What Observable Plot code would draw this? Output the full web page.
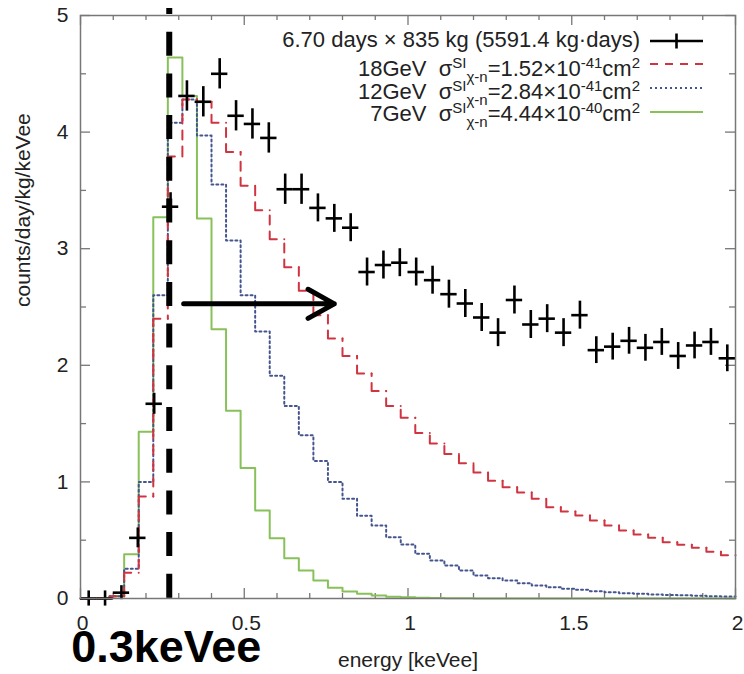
<!DOCTYPE html>
<html><head><meta charset="utf-8">
<script src="https://cdn.jsdelivr.net/npm/d3@7"></script>
<script src="https://cdn.jsdelivr.net/npm/@observablehq/plot@0.6"></script>
<style>body{margin:0;background:#fff;} svg{display:block}</style>
</head><body><div id="chart"></div>
<script>
// ---- measured data (counts/day/kg/keVee) ----
const dataEnergy = [0.025,0.075,0.125,0.175,0.225,0.275,0.325,0.375,0.425,0.475,
  0.525,0.575,0.625,0.675,0.725,0.775,0.825,0.875,0.925,0.975,
  1.025,1.075,1.125,1.175,1.225,1.275,1.325,1.375,1.425,1.475,
  1.525,1.575,1.625,1.675,1.725,1.775,1.825,1.875,1.925,1.975];
const dataRate = [0.00,0.00,0.05,0.52,1.67,3.36,4.31,4.26,4.50,4.14,
  4.07,3.95,3.51,3.51,3.35,3.26,3.18,2.80,2.86,2.88,
  2.80,2.73,2.61,2.53,2.41,2.28,2.56,2.35,2.40,2.28,
  2.43,2.13,2.16,2.21,2.15,2.20,2.08,2.17,2.20,2.06];
const dataErr = [0.065,0.065,0.06,0.085,0.09,0.12,0.13,0.13,0.13,0.13,
  0.13,0.13,0.13,0.13,0.12,0.12,0.12,0.12,0.12,0.12,
  0.12,0.12,0.12,0.12,0.12,0.12,0.12,0.12,0.12,0.12,
  0.12,0.115,0.115,0.115,0.115,0.115,0.115,0.115,0.115,0.115];
const dataHalfBin = 0.025;

// ---- WIMP model histograms (45 bins over 0–2 keVee) ----
const modelBinCount = 45;
const model18GeV = [0,0,0.02,0.22,0.875,2.40,3.79,4.28,4.26,4.08,
  3.83,3.54,3.33,3.08,2.84,2.64,2.43,2.23,2.08,1.93,
  1.78,1.65,1.55,1.42,1.33,1.24,1.16,1.08,1.01,0.955,
  0.91,0.855,0.783,0.746,0.712,0.669,0.626,0.583,0.549,0.52,
  0.483,0.46,0.435,0.40,0.37];
const model12GeV = [0,0,0.02,0.255,1.00,2.60,4.08,4.28,3.97,3.55,
  3.07,2.60,2.29,1.91,1.65,1.40,1.18,1.00,0.855,0.71,
  0.626,0.526,0.463,0.383,0.326,0.283,0.24,0.197,0.174,0.154,
  0.131,0.111,0.097,0.083,0.074,0.063,0.054,0.045,0.04,0.035,
  0.03,0.027,0.024,0.02,0.018];
const model7GeV = [0,0,0.02,0.38,1.43,3.27,4.64,4.31,3.26,2.31,
  1.61,1.12,0.755,0.517,0.346,0.24,0.154,0.092,0.06,0.04,
  0.026,0.015,0.01,0.006,0.004,0.003,0.002,0.001,0.001,0.001,
  0,0,0,0,0,0,0,0,0,0,
  0,0,0,0,0];

// ---- axes ----
const xTicks = [0,0.5,1,1.5,2];
const xTickLabels = ["0","0.5","1","1.5","2"];
const xMinor = [0.1,0.2,0.3,0.4,0.6,0.7,0.8,0.9,1.1,1.2,1.3,1.4,1.6,1.7,1.8,1.9];
const yTicks = [0,1,2,3,4,5];
const yTickLabels = ["0","1","2","3","4","5"];
const yMinor = [0.5,1.5,2.5,3.5,4.5];
const xLabel = "energy [keVee]";
const yLabel = "counts/day/kg/keVee";

// ---- annotations ----
const threshold = [0.271];
const thresholdLabel = ["0.3keVee"];
const arrowRows = [{x1: 0.315, x2: 0.775, y: 2.527}];

// ---- legend ----
const legendData = "6.70 days × 835 kg (5591.4 kg·days)";
const legendMass = ["18GeV","12GeV","7GeV"];
const legendSigma = ["1.52","2.84","4.44"];
const legendExp = ["-41","-41","-40"];

const RED = "#cf3440", BLUE = "#44548f", GREEN = "#88c15a", AX = "#777";
const FONT = '"Liberation Sans", Arial, Helvetica, sans-serif';

const modelBinWidth = 2 / modelBinCount;
function stepLine(values) {
  const pts = values.map((v, i) => ({x: i * modelBinWidth, y: v}));
  pts.push({x: 2, y: values[values.length - 1]});
  return pts;
}
// per-bin segments (drawn from right end of the flat part back up the riser)
function stepSegments(values) {
  const out = [];
  values.forEach((v, i) => {
    const e0 = i * modelBinWidth, e1 = (i + 1) * modelBinWidth;
    out.push({bin: i, x: e1, y: v});
    out.push({bin: i, x: e0, y: v});
    if (i > 0) out.push({bin: i, x: e0, y: values[i - 1]});
  });
  return out;
}
const points = dataEnergy.map((x, i) => ({x, y: dataRate[i], e: dataErr[i]}));

const W = 744, H = 674, mT = 15, mR = 9, mB = 76, mL = 80;
const fw = W - mL - mR, fh = H - mT - mB;

const chart = Plot.plot({
  width: W, height: H,
  marginTop: mT, marginRight: mR, marginBottom: mB, marginLeft: mL,
  x: {domain: [0, 2], axis: null},
  y: {domain: [0, 5], axis: null},
  style: {fontFamily: FONT, fontSize: "21px", background: "#fff", color: "#222", overflow: "visible"},
  marks: [
    // inward ticks on all four sides
    Plot.ruleX(xTicks, {stroke: AX, strokeWidth: 1.3, insetTop: fh - 10}),
    Plot.ruleX(xMinor, {stroke: AX, strokeWidth: 1.3, insetTop: fh - 5}),
    Plot.ruleX(xTicks, {stroke: AX, strokeWidth: 1.3, insetBottom: fh - 10}),
    Plot.ruleX(xMinor, {stroke: AX, strokeWidth: 1.3, insetBottom: fh - 5}),
    Plot.ruleY(yTicks, {stroke: AX, strokeWidth: 1.3, insetRight: fw - 10}),
    Plot.ruleY(yMinor, {stroke: AX, strokeWidth: 1.3, insetRight: fw - 6}),
    Plot.ruleY(yTicks, {stroke: AX, strokeWidth: 1.3, insetLeft: fw - 10}),
    Plot.ruleY(yMinor, {stroke: AX, strokeWidth: 1.3, insetLeft: fw - 6}),
    // models
    Plot.line(stepLine(model7GeV), {x: "x", y: "y", curve: "step-after", stroke: GREEN, strokeWidth: 2}),
    Plot.line(stepLine(model12GeV), {x: "x", y: "y", curve: "step-after", stroke: BLUE, strokeWidth: 2, strokeDasharray: "2,3"}),
    Plot.line(stepSegments(model18GeV), {x: "x", y: "y", z: "bin", stroke: RED, strokeWidth: 2,
      strokeDasharray: "0,7.5,15,7,9,7,9,7,9,7,9,7,9,7,9,7,9,7,9,7,9,7,9,7,9,7,9,7,9,7,9,7"}),
    // data with error bars
    Plot.ruleX(points, {x: "x", y1: d => d.y - d.e, y2: d => d.y + d.e, stroke: "black", strokeWidth: 2.6}),
    Plot.ruleY(points, {y: "y", x1: d => d.x - dataHalfBin, x2: d => d.x + dataHalfBin, stroke: "black", strokeWidth: 2.6}),
    Plot.frame({stroke: AX, strokeWidth: 1.5}),
    // tick labels & axis titles
    Plot.text(xTickLabels, {x: (d, i) => xTicks[i], text: d => d, frameAnchor: "bottom", dy: 25, dx: 2, lineAnchor: "middle", fill: "#222"}),
    Plot.text(yTickLabels, {y: (d, i) => yTicks[i], text: d => d, frameAnchor: "left", dx: -12, textAnchor: "end", lineAnchor: "middle", fill: "#222"}),
    Plot.text([xLabel], {text: d => d, frameAnchor: "bottom", dy: 62, lineAnchor: "middle", fill: "#222"}),
    Plot.text([yLabel], {text: d => d, frameAnchor: "left", rotate: -90, dx: -57, lineAnchor: "middle", fill: "#222"}),
    // threshold + arrow
    Plot.ruleX(threshold, {y1: 5.06, y2: -0.017, stroke: "black", strokeWidth: 6, strokeDasharray: "24,17.7", strokeDashoffset: 18}),
    Plot.arrow(arrowRows, {x1: "x1", y1: "y", x2: "x2", y2: "y", stroke: "black", strokeWidth: 5, headAngle: 58, headLength: 9}),
    Plot.text(thresholdLabel, {x: () => threshold[0], text: d => d, frameAnchor: "bottom", dy: 63, dx: -3, lineAnchor: "bottom",
      fontSize: 45, fontWeight: "bold", fill: "black"})
  ]
});
document.getElementById("chart").appendChild(chart);

// ---- legend (inside the frame, top right) ----
const svg = d3.select(chart);
const lg = svg.append("g").attr("font-family", FONT).attr("font-size", 22).attr("fill", "#222");
const textRight = 640, keyX1 = 650, keyX2 = 703;
const rowBase = [47, 76, 98.5, 121];
const keyY = [41, 64, 88, 112];

lg.append("text").attr("x", textRight).attr("y", rowBase[0]).attr("text-anchor", "end").text(legendData);
lg.append("line").attr("x1", keyX1).attr("x2", keyX2).attr("y1", keyY[0]).attr("y2", keyY[0]).attr("stroke", "black").attr("stroke-width", 2.6);
lg.append("line").attr("x1", (keyX1 + keyX2) / 2).attr("x2", (keyX1 + keyX2) / 2).attr("y1", keyY[0] - 7.5).attr("y2", keyY[0] + 7.5).attr("stroke", "black").attr("stroke-width", 2.6);

function richText(x, y, parts) {
  const t = lg.append("text").attr("x", x).attr("y", y).attr("text-anchor", "end");
  let cur = 0;
  for (const [s, shift, size] of parts) {
    t.append("tspan").attr("dy", shift - cur).attr("font-size", size).text(s);
    cur = shift;
  }
}
const keyStyles = [[RED, "8,7"], [BLUE, "2,3"], [GREEN, null]];
legendMass.forEach((m, i) => {
  richText(textRight, rowBase[i + 1], [
    [m + "\u00a0\u00a0σ", 0, 22], ["SI", -8, 15], ["χ-n", 6, 15],
    ["=" + legendSigma[i] + "×10", 0, 22], [legendExp[i], -8, 15], ["cm", 0, 22], ["2", -8, 15]
  ]);
  const [c, dash] = keyStyles[i];
  const ln = lg.append("line").attr("x1", keyX1).attr("x2", keyX2).attr("y1", keyY[i + 1]).attr("y2", keyY[i + 1])
    .attr("stroke", c).attr("stroke-width", 2);
  if (dash) ln.attr("stroke-dasharray", dash);
});
</script>
</body></html>
